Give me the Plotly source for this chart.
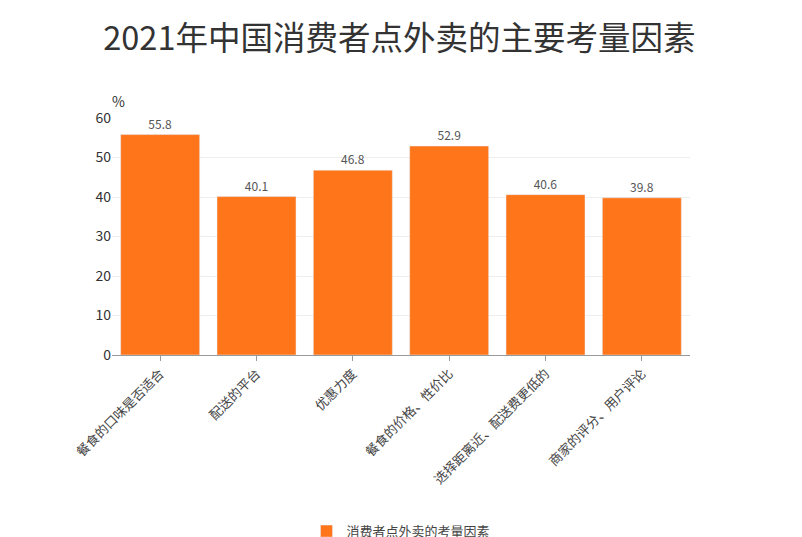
import plotly.graph_objects as go

categories = ["餐食的口味是否适合", "配送的平台", "优惠力度", "餐食的价格、性价比", "选择距离近、配送费更低的", "商家的评分、用户评论"]
values = [55.8, 40.1, 46.8, 52.9, 40.6, 39.8]
series_name = "消费者点外卖的考量因素"

fig = go.Figure(go.Bar(
    x=categories, y=values, name=series_name,
    marker_color="#FF7519", width=0.82,
    text=[f"{v:.1f}" for v in values], textposition="outside",
    textfont=dict(size=12, color="#555"), cliponaxis=False,
    showlegend=True,
))
fig.update_layout(
    width=802, height=537,
    paper_bgcolor="white", plot_bgcolor="white",
    font=dict(family="Noto Sans CJK SC", color="#444"),
    title=dict(text="2021年中国消费者点外卖的主要考量因素", x=0.488, y=0.965, yanchor="top", xanchor="center",
               font=dict(size=32.5, color="#333")),
    margin=dict(l=104, r=120, t=110, b=190, autoexpand=False),
    xaxis=dict(tickangle=-45, tickfont=dict(size=13, color="#444"), showline=True, automargin=False,
               linecolor="#999", ticks="outside", ticklen=5, tickcolor="#999"),
    yaxis=dict(range=[0, 60], dtick=10, tickfont=dict(size=14, color="#333"), automargin=False,
               gridcolor="#eeeeee", zeroline=False),
    legend=dict(orientation="h", x=0.5, xanchor="center", y=-0.68, yanchor="top",
                font=dict(size=13, color="#444")),
    annotations=[dict(text="%", x=0, xref="paper", xanchor="left", xshift=-2, y=1.02,
                      yref="paper", yanchor="bottom", showarrow=False,
                      font=dict(size=14, color="#333"))],
)
fig.write_html("out.html")
